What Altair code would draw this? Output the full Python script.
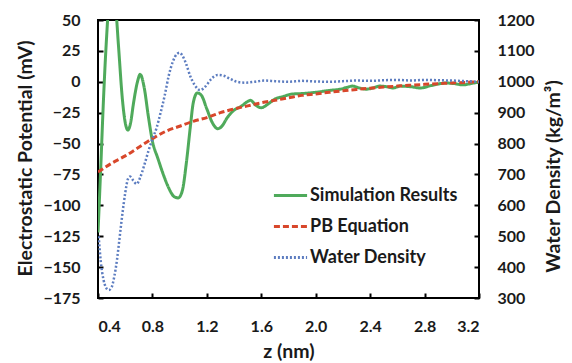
import altair as alt
import pandas as pd

series_names = ["Simulation Results", "PB Equation", "Water Density"]
series_colors = ["#4faa5b", "#d8472b", "#5d7dc0"]
series_dashes = [[1, 0], [6, 3], [2, 2]]

sim_z = [0.40, 0.42, 0.44, 0.46, 0.48, 0.505, 0.53, 0.55, 0.58, 0.60, 0.62, 0.64, 0.66,
         0.69, 0.71, 0.74, 0.77, 0.80, 0.84, 0.88, 0.92, 0.96, 0.99, 1.02, 1.05, 1.08,
         1.10, 1.13, 1.16, 1.20, 1.24, 1.28, 1.31, 1.35, 1.40, 1.45, 1.50, 1.52, 1.56,
         1.60, 1.65, 1.70, 1.76, 1.82, 1.90, 2.00, 2.10, 2.18, 2.23, 2.27, 2.32, 2.37,
         2.42, 2.47, 2.52, 2.57, 2.62, 2.70, 2.77, 2.85, 2.96, 3.02, 3.08, 3.14, 3.20]
sim_mv = [-122, -70, -15, 30, 62, 72, 60, 30, -15, -33, -39, -33, -18,
          0, 6, -5, -28, -48, -62, -75, -86, -93, -94, -88, -65, -35,
          -17, -9, -11, -22, -33, -38, -36, -29, -23, -20, -16, -15, -19,
          -21, -18, -14, -12, -10, -9.5, -8.5, -7, -6, -4.5, -3.5, -5, -6,
          -5, -3.5, -4, -5, -3.5, -4, -5, -3, -1, -1.5, -2.5, -1.5, 0]

pb_z = [0.4, 0.5, 0.6, 0.7, 0.8, 0.9, 1.0, 1.1, 1.2, 1.3, 1.4, 1.5, 1.6, 1.7, 1.8,
        1.9, 2.0, 2.1, 2.2, 2.3, 2.4, 2.5, 2.6, 2.7, 2.8, 2.9, 3.0, 3.1, 3.2]
pb_mv = [-73, -66, -60, -53, -46, -40, -36, -32, -29, -25, -22, -19.5, -17, -15, -13,
         -11, -9.8, -8.5, -7.3, -6.2, -5.2, -4.3, -3.5, -2.8, -2.1, -1.5, -1.0, -0.5, 0]

wd_z = [0.405, 0.42, 0.44, 0.46, 0.48, 0.50, 0.52, 0.54, 0.56, 0.58, 0.60, 0.62, 0.635,
        0.66, 0.684, 0.71, 0.74, 0.77, 0.80, 0.83, 0.86, 0.89, 0.92, 0.95, 0.98, 1.00,
        1.02, 1.05, 1.08, 1.11, 1.15, 1.19, 1.23, 1.28, 1.32, 1.37, 1.42, 1.48, 1.55,
        1.62, 1.70, 1.80, 1.90, 2.0, 2.1, 2.2, 2.3, 2.4, 2.5, 2.6, 2.7, 2.8, 2.9, 3.0,
        3.1, 3.2]
wd_rho = [500, 420, 360, 333, 326, 335, 370, 425, 500, 575, 640, 685, 693,
          680, 669, 690, 730, 775, 815, 850, 900, 955, 1020, 1065, 1090, 1094,
          1085, 1055, 1016, 990, 973, 985, 1008, 1022, 1020, 1010, 1000, 997, 1000,
          1004, 1002, 1000, 1003, 1001, 1000, 1002, 1004, 1003, 1005, 1006, 1004, 1006, 1005, 1004,
          1002, 1000]

x_ticks = [0.4, 0.8, 1.2, 1.6, 2.0, 2.4, 2.8, 3.2]
left_ticks = [50, 25, 0, -25, -50, -75, -100, -125, -150, -175]
right_ticks = [300, 400, 500, 600, 700, 800, 900, 1000, 1100, 1200]

FONT = "Lato"
TXT = "#1a1a1a"
TITLE_SIZE = 19.5

sim_df = pd.DataFrame({"z": sim_z, "v": sim_mv, "series": series_names[0]})
pb_df = pd.DataFrame({"z": pb_z, "v": pb_mv, "series": series_names[1]})
wd_df = pd.DataFrame({"z": wd_z, "v": wd_rho, "series": series_names[2]})

legend = alt.Legend(
    title=None, orient="none", legendX=174, legendY=157,
    symbolType="stroke", symbolSize=1100, symbolStrokeWidth=3,
    labelFont=FONT, labelFontSize=18, labelFontWeight="bold", labelColor=TXT,
    rowPadding=3, padding=0, labelOffset=1,
)
color_enc = alt.Color("series:N", scale=alt.Scale(domain=series_names, range=series_colors), legend=legend)
dash_enc = alt.StrokeDash("series:N", scale=alt.Scale(domain=series_names, range=series_dashes), legend=legend)

x_enc = alt.X(
    "z:Q",
    scale=alt.Scale(domain=[0.4, 3.2], nice=False, zero=False),
    axis=alt.Axis(
        values=x_ticks, format=".1f", title="z (nm)", grid=False, domain=False,
        tickSize=5, tickWidth=2, tickColor="black", offset=-5, labelPadding=20,
        labelFont=FONT, labelFontSize=16, labelFontWeight="bold", labelColor=TXT,
        titleFont=FONT, titleFontSize=TITLE_SIZE, titleFontWeight="bold", titleColor=TXT,
        titleY=58, titleBaseline="middle",
    ),
)

left_scale = alt.Scale(domain=[-175, 50], nice=False, zero=False)
left_axis = alt.Axis(
    values=left_ticks, title="Electrostatic Potential (mV)", grid=False, domain=False,
    tickSize=5, tickWidth=2, tickColor="black", offset=-5, labelPadding=18,
    labelFont=FONT, labelFontSize=16, labelFontWeight="bold", labelColor=TXT,
    titleFont=FONT, titleFontSize=TITLE_SIZE, titleFontWeight="bold", titleColor=TXT,
    titleX=-78, titleY=138, titleAngle=270, titleBaseline="middle", titleAlign="center",
)
right_axis = alt.Axis(
    orient="right", values=right_ticks, format="d", title="Water Density (kg/m³)", grid=False, domain=False,
    tickSize=5, tickWidth=2, tickColor="black", offset=-5, labelPadding=18,
    labelFont=FONT, labelFontSize=16, labelFontWeight="bold", labelColor=TXT,
    titleFont=FONT, titleFontSize=TITLE_SIZE, titleFontWeight="bold", titleColor=TXT,
    titleX=79, titleY=156, titleAngle=270, titleBaseline="middle", titleAlign="center",
)

sim = alt.Chart(sim_df).mark_line(strokeWidth=3, clip=True, interpolate="monotone").encode(
    x=x_enc, y=alt.Y("v:Q", scale=left_scale, axis=left_axis), color=color_enc, strokeDash=dash_enc,
)
pb = alt.Chart(pb_df).mark_line(strokeWidth=3, clip=True, interpolate="monotone").encode(
    x=x_enc, y=alt.Y("v:Q", scale=left_scale, axis=left_axis), color=color_enc, strokeDash=dash_enc,
)
left = alt.layer(sim, pb)
wd = alt.Chart(wd_df).mark_line(strokeWidth=2.5, clip=True, interpolate="monotone").encode(
    x=x_enc,
    y=alt.Y("v:Q", scale=alt.Scale(domain=[300, 1200], nice=False, zero=False), axis=right_axis),
    color=color_enc, strokeDash=dash_enc,
)

chart = alt.layer(left, wd).resolve_scale(y="independent").properties(
    width=381, height=278,
    autosize=alt.AutoSizeParams(type="none"),
    padding={"left": 90, "top": 12, "right": 85, "bottom": 65},
    background="white",
).configure_view(stroke="black", strokeWidth=2)

chart.save("out.html", embed_options={"renderer": "svg", "actions": False})
